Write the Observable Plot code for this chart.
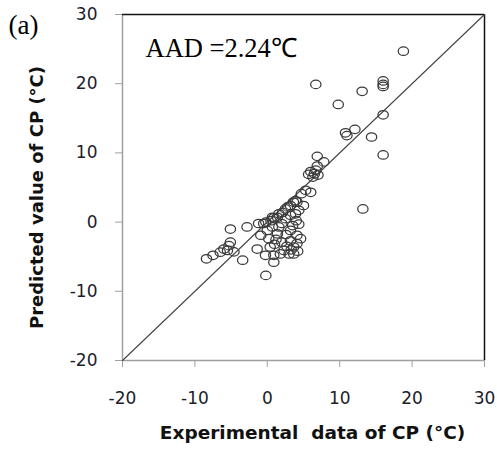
<!DOCTYPE html>
<html><head><meta charset="utf-8">
<script src="https://cdn.jsdelivr.net/npm/d3@7"></script>
<script src="https://cdn.jsdelivr.net/npm/@observablehq/plot@0.6"></script>
<style>body{margin:0;background:#fff} #chart{width:497px;height:453px}</style>
</head><body><div id="chart"></div>
<script>
// Experimental cloud point (x) vs predicted cloud point (y), °C
const expX = [18.8, 6.7, 13.1, 16.0, 16.0, 16.0, 9.8, 16.0, 12.1, 11.0, 10.8, 14.4, 16.0, 13.2,
  6.9, 7.8, 6.9, 6.0, 6.5, 7.0, 6.3, 6.7, 5.7, 6.0, 4.7, 5.3, 3.9, 3.6, 2.8, 3.2, 2.5, 2.1, 4.1, 5.0,
  4.35, 3.9, 3.2, 2.5, 1.6, 1.4, 0.7, 0.9, -0.5, -1.2, -2.8, -5.1, 4.35, 1.6, 0.7, 0.0, -0.9, 1.4,
  3.2, 4.1, 0.2, 2.0, 3.2, 4.1, 0.4, 3.65, -1.4, 2.3, -0.25, 0.9, 1.8, 3.0, 3.65, 0.9, -0.2,
  -8.4, -7.5, -6.5, -6.0, -5.5, -5.3, -5.1, -4.6, -3.4,
  2.7, 1.2, 2.6, 3.5, 0.5, 4.0, 2.0, 1.0, 3.3, 4.2, 4.6, -0.2];
const predY = [24.7, 19.9, 18.9, 20.4, 19.9, 19.6, 17.0, 15.5, 13.4, 12.5, 12.9, 12.3, 9.7, 1.9,
  9.5, 8.7, 8.1, 7.3, 7.0, 6.8, 6.5, 7.5, 6.9, 4.3, 4.1, 4.6, 3.1, 2.9, 2.2, 2.4, 1.9, 1.4, 2.9, 2.4,
  1.7, 1.2, 1.0, 0.5, 1.2, 0.7, 0.7, 0.6, -0.2, -0.2, -0.7, -1.0, -0.3, -0.7, -0.7, -1.2, -1.9, -1.7,
  -1.2, -1.9, -2.4, -2.9, -2.7, -3.1, -3.6, -3.6, -3.9, -4.1, -4.8, -4.8, -4.6, -4.6, -4.6, -5.8, -7.7,
  -5.3, -4.8, -4.35, -3.9, -4.1, -3.4, -2.9, -4.3, -5.5,
  -3.5, -2.5, -1.8, -0.5, 0.2, 0.2, -0.2, -3.2, -4.0, -4.2, -2.4, 0.0];
const xTicks = [-20, -10, 0, 10, 20, 30];
const yTicks = [-20, -10, 0, 10, 20, 30];
const diag = [-20, 30];
const panelLabel = "(a)";
const aadLabel = "AAD =2.24℃";
const xTitle = "Experimental  data of CP (°C)";
const yTitle = "Predicted value of CP (°C)";

const points = expX.map((x, i) => ({x, y: predY[i]}));
const diagLine = diag.map(v => ({x: v, y: v}));

// slightly wide ellipse marker, like the reference
const ellipse = {
  draw(ctx, size) {
    const r = Math.sqrt(size / Math.PI), rx = r * 1.1, ry = r * 0.9, k = 0.5523;
    ctx.moveTo(rx, 0);
    ctx.bezierCurveTo(rx, ry * k, rx * k, ry, 0, ry);
    ctx.bezierCurveTo(-rx * k, ry, -rx, ry * k, -rx, 0);
    ctx.bezierCurveTo(-rx, -ry * k, -rx * k, -ry, 0, -ry);
    ctx.bezierCurveTo(rx * k, -ry, rx, -ry * k, rx, 0);
    ctx.closePath();
  }
};

const gray = "#a0a0a0";
const tickColor = "#1c1c2a";
const chart = Plot.plot({
  width: 497, height: 453,
  marginLeft: 122, marginRight: 13, marginTop: 14, marginBottom: 93,
  style: {fontFamily: "DejaVu Sans", background: "#fff", color: tickColor},
  x: {domain: [-20, 30]},
  y: {domain: [-20, 30]},
  marks: [
    Plot.axisX({ticks: xTicks, tickSize: 7, tickPadding: 24, stroke: gray, fill: tickColor, fontSize: 17, label: null, tickFormat: d => String(d)}),
    Plot.axisY({ticks: yTicks, tickSize: 7, tickPadding: 18, stroke: gray, fill: tickColor, fontSize: 17, label: null, tickFormat: d => String(d)}),
    Plot.ruleX([-20], {stroke: gray, strokeWidth: 1.5}),
    Plot.ruleY([-20], {stroke: gray, strokeWidth: 1.5}),
    Plot.ruleX([30], {stroke: "#111", strokeWidth: 1.5}),
    Plot.ruleY([30], {stroke: "#111", strokeWidth: 1.5}),
    Plot.line(diagLine, {x: "x", y: "y", stroke: "#444", strokeWidth: 1.1}),
    Plot.dot(points, {x: "x", y: "y", r: 4.7, symbol: ellipse, stroke: "#3a3a3a", strokeWidth: 1.25, fill: "none"}),
    Plot.text([aadLabel], {frameAnchor: "top-left", dx: 23, dy: 24, fontFamily: "Liberation Serif", fontSize: 26.5, fill: "#000", textAnchor: "start"}),
    Plot.text([panelLabel], {frameAnchor: "top-left", dx: -114, dy: 0, fontFamily: "Liberation Serif", fontSize: 27, fill: "#000", textAnchor: "start"}),
    Plot.text([xTitle], {frameAnchor: "bottom", dx: 9, dy: 78, fontFamily: "DejaVu Sans", fontWeight: "bold", fontSize: 18.5, fill: "#111"}),
    Plot.text([yTitle], {frameAnchor: "left", rotate: -90, textAnchor: "middle", dx: -85, dy: 10, fontFamily: "DejaVu Sans", fontWeight: "bold", fontSize: 18, fill: "#111"})
  ]
});
document.getElementById("chart").appendChild(chart);
</script>
</body></html>
